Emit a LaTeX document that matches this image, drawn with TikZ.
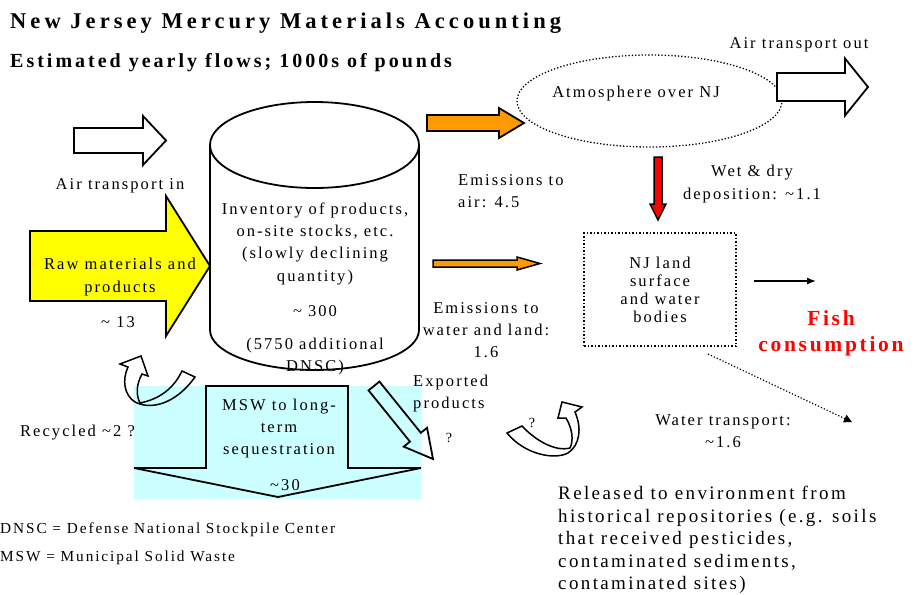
\documentclass[tikz,border=0pt]{standalone}
\usepackage{fontspec}
\setmainfont{Liberation Serif}[LetterSpace=12.5]
\newfontfamily\titlefont{Liberation Serif}[LetterSpace=18]
\newfontfamily\subtitlefont{Liberation Serif}[LetterSpace=15]
\usetikzlibrary{
    calc, shapes.geometric, arrows.meta
}
\definecolor{hgorange}{HTML}{FF9900}
\definecolor{hgcyan}{HTML}{CCFFFF}
\definecolor{hgyellow}{HTML}{FFFF00}
\definecolor{hgred}{HTML}{FF0000}
% block arrow: [style]{tail}{tip}{half body}{half head}{head length}
\newcommand{\blockarrow}[6][]{
    \coordinate (bt) at #2;
    \coordinate (bp) at #3;
    \coordinate (bb) at ($(bp)!#6!(bt)$);
    \draw[#1] ($(bt)!#4!90:(bp)$) -- ($(bb)!#4!90:(bp)$)
        -- ($(bb)!#5!90:(bp)$) -- (bp) -- ($(bb)!#5!-90:(bp)$)
        -- ($(bb)!#4!-90:(bp)$) -- ($(bt)!#4!-90:(bp)$) -- cycle;
}

\begin{document}
\begin{tikzpicture}[x=1pt, y=-1pt,
    lbl/.style={font=\fontsize{16.5}{22.3}\selectfont, align=center, inner sep=0pt},
    outline/.style={draw, line width=1.8pt, line join=miter},
    qmark/.style={font=\fontsize{14}{16}\selectfont, inner sep=0pt}]
        \useasboundingbox (0,0) rectangle (914,595);
        \node[anchor=base west, inner sep=0pt, font=\titlefont\bfseries\fontsize{22.5}{26}\selectfont] (title) at (10,28) {New Jersey Mercury Materials Accounting};
        \node[anchor=base west, inner sep=0pt, font=\subtitlefont\bfseries\fontsize{20}{23}\selectfont] (subtitle) at (10,67) {Estimated yearly flows; 1000s of pounds};
        % sequestration area
        \fill[hgcyan] (134,386) rectangle (422,499);
        % inventory cylinder
        \draw[line width=1.8pt] (314.5,145) ellipse [x radius=104.5pt, y radius=43pt];
        \draw[line width=1.8pt] (210,145) -- (210,330) arc[start angle=180, end angle=360, x radius=104.5pt, y radius=40pt] -- (419,145);
        \node[lbl] (inv) at (315,289) {Inventory of products,\\on-site stocks, etc.\\(slowly declining\\quantity)\\[13pt]\textasciitilde{} 300\\[11pt](5750 additional\\DNSC)};
        % MSW arrow
        \draw[outline] (206,468) -- (206,386) -- (348,386) -- (348,468) -- (421,468) -- (278,497) -- (134,468) -- cycle;
        \node[lbl] (msw) at (279,428.5) {MSW to long-\\term\\sequestration};
        \node[lbl] (mswval) at (285,485) {\textasciitilde30};
        % atmosphere
        \node[ellipse, draw, dotted, line width=1.3pt, minimum width=265pt, minimum height=92pt, inner sep=0pt] (atm) at (649.5,101) {};
        \node[lbl] (atmtext) at (636,94) {Atmosphere over NJ};
        % block arrows
        \blockarrow[outline]{(74,140.5)}{(166,140.5)}{12.5pt}{24.5pt}{23pt}
        \blockarrow[outline, fill=hgyellow]{(30,266)}{(210,266)}{35pt}{70pt}{44pt}
        \blockarrow[outline, fill=hgorange]{(427,123)}{(524,123)}{8pt}{15pt}{25pt}
        \blockarrow[outline, fill=hgorange, line width=1.5pt]{(433,263.5)}{(540,263.5)}{3.5pt}{6.5pt}{23pt}
        \blockarrow[outline, fill=white]{(777,87)}{(868,87)}{14pt}{28.5pt}{23pt}
        \blockarrow[outline, fill=hgred, line width=1.5pt]{(658,157)}{(658,220)}{4pt}{8pt}{16pt}
        \blockarrow[outline]{(374,386)}{(433,459)}{7pt}{15pt}{28pt}
        % curved arrows
        \draw[line width=1.5pt] (182,371) .. controls (172,392) and (155,400) .. (140,403) .. controls (136,395) and (136,385) .. (142,374) -- (148,376) -- (141,356) -- (120,364) -- (128,367) .. controls (122,380) and (124,395) .. (135,402) .. controls (150,410) and (175,405) .. (195,377) -- cycle;
        \draw[line width=1.5pt] (507,433) -- (522,426) .. controls (535,440) and (555,452) .. (570,448) .. controls (574,440) and (572,428) .. (566,418) -- (558,418) -- (562,402) -- (582,407) -- (575,412) .. controls (582,428) and (580,445) .. (568,453) .. controls (555,460) and (525,455) .. (507,433) -- cycle;
        % land and fish
        \node[draw, dotted, line width=1.5pt, minimum width=152pt, minimum height=113pt, lbl, font=\fontsize{16.5}{18}\selectfont] (land) at (660,289.5) {NJ land\\surface\\and water\\bodies};
        \node[font=\bfseries\fontsize{21.5}{26}\selectfont, text=hgred, align=center, inner sep=0pt] (fish) at (831,333) {Fish\\consumption};
        \coordinate (fishout) at (754,281);
        \coordinate (fishin) at (816,281);
        \draw[line width=1.3pt, -{Latex[length=9pt, width=7pt]}] (fishout) -- (fishin);
        \coordinate (wsrc) at (708,354);
        \coordinate (wdst) at (852,422);
        \draw[dotted, line width=1.2pt, -{Triangle[length=8pt, width=8pt]}] (wsrc) -- (wdst);
        % labels
        \node[lbl] (airin) at (120,186) {Air transport in};
        \node[lbl] (raw) at (120,277) {Raw materials and\\products};
        \node[lbl] (rawval) at (118,322) {\textasciitilde{} 13};
        \node[lbl] (airout) at (799,45) {Air transport out};
        \node[lbl, align=left, anchor=west] (emair) at (458,191) {Emissions to\\air: 4.5};
        \node[lbl] (depo) at (752,184) {Wet \& dry\\deposition: \textasciitilde1.1};
        \node[lbl] (emwater) at (486,330) {Emissions to\\water and land:\\1.6};
        \node[lbl] (wtrans) at (723,431) {Water transport:\\\textasciitilde1.6};
        \node[lbl, align=left, anchor=west, font=\fontsize{19}{22.5}\selectfont] (hist) at (558,540) {Released to environment from\\historical repositories (e.g. soils\\that received pesticides,\\contaminated sediments,\\contaminated sites)};
        \node[lbl, align=left, anchor=west] (export) at (413,393.5) {Exported\\products};
        \node[qmark] (q1) at (449,438) {?};
        \node[qmark] (q2) at (532,423) {?};
        \node[lbl] (recyc) at (77.5,433) {Recycled \textasciitilde2 ?};
        \node[lbl, anchor=west, font=\fontsize{15.3}{18}\selectfont] (dnsc) at (0,530) {DNSC = Defense National Stockpile Center};
        \node[lbl, anchor=west, font=\fontsize{15.3}{18}\selectfont] (mswdef) at (0,558) {MSW = Municipal Solid Waste};
    \end{tikzpicture}
\end{document}
